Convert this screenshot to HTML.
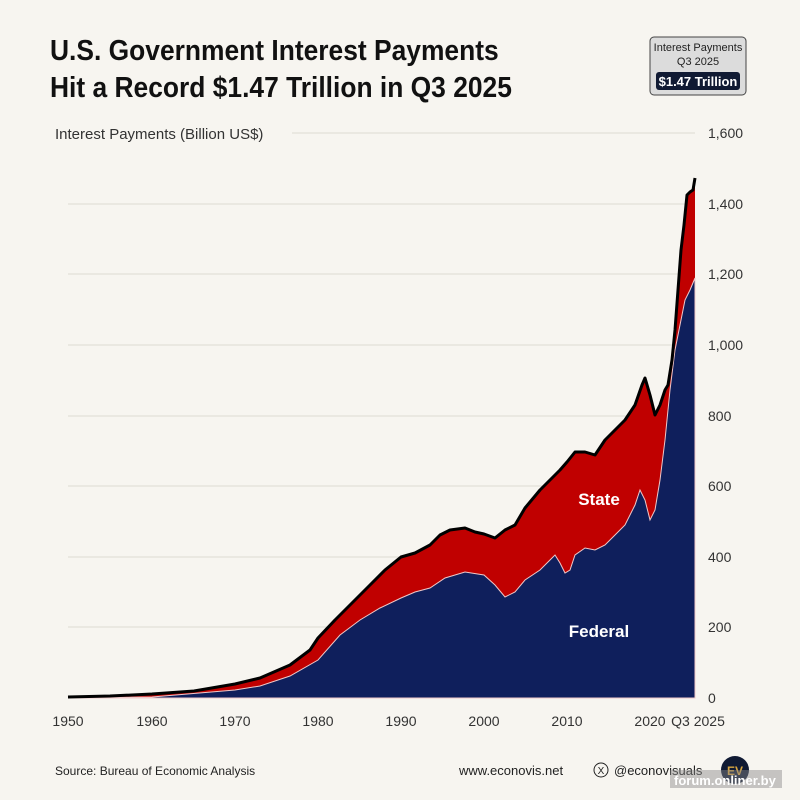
<!DOCTYPE html>
<html><head><meta charset="utf-8"><style>
body{margin:0;background:#f7f5f0;}
svg{display:block;font-family:"Liberation Sans",sans-serif;}
</style></head><body>
<svg width="800" height="800" viewBox="0 0 800 800">
<rect width="800" height="800" fill="#f7f5f0"/>
<text x="50" y="60" font-size="29" font-weight="bold" fill="#111" transform="scale(0.91,1)" transform-origin="50 0">U.S. Government Interest Payments</text>
<text x="50" y="97" font-size="29" font-weight="bold" fill="#111" transform="scale(0.91,1)" transform-origin="50 0">Hit a Record $1.47 Trillion in Q3 2025</text>
<rect x="650" y="37" width="96" height="58" rx="4" fill="#dcdcdc" stroke="#444" stroke-width="1"/>
<text x="698" y="51" font-size="11" text-anchor="middle" fill="#222">Interest Payments</text>
<text x="698" y="65" font-size="11" text-anchor="middle" fill="#222">Q3 2025</text>
<rect x="656" y="72" width="84" height="18" rx="3" fill="#101a33"/>
<text x="698" y="86" font-size="13" font-weight="bold" text-anchor="middle" fill="#fff">$1.47 Trillion</text>
<text x="55" y="139" font-size="15" fill="#333">Interest Payments (Billion US$)</text>
<g stroke="#dddad2" stroke-width="1">
<line x1="292" y1="133" x2="695" y2="133"/>
<line x1="68" y1="204" x2="695" y2="204"/>
<line x1="68" y1="274" x2="695" y2="274"/>
<line x1="68" y1="345" x2="695" y2="345"/>
<line x1="68" y1="416" x2="695" y2="416"/>
<line x1="68" y1="486" x2="695" y2="486"/>
<line x1="68" y1="557" x2="695" y2="557"/>
<line x1="68" y1="627" x2="695" y2="627"/>
</g>
<g font-size="14" fill="#333">
<text x="708" y="138">1,600</text><text x="708" y="209">1,400</text><text x="708" y="279">1,200</text>
<text x="708" y="350">1,000</text><text x="708" y="421">800</text><text x="708" y="491">600</text>
<text x="708" y="562">400</text><text x="708" y="632">200</text><text x="708" y="703">0</text>
</g>
<polygon fill="#c00000" points="68,697 110,696 152,694 194,691 235,684 260,678 290,665 310,650 318,638 335,620 355,600 370,585 385,570 401,557 415,553 430,545 440,535 450,530 465,528 475,532 484,534 495,538 505,530 515,525 525,508 540,490 550,480 560,470 567,462 575,452 585,452 595,455 605,440 615,430 625,420 635,405 642,385 645,378 650,395 655,415 660,405 665,390 668,385 672,360 675,330 678,290 681,250 684,225 687,195 690,192 693,190 695,178 695,698 68,698"/>
<polygon fill="#0f1f5c" stroke="#f0c8c8" stroke-width="1" points="68,698 152,697 235,690 260,686 290,676 318,660 340,635 360,620 380,608 401,598 415,592 430,588 445,578 465,572 484,575 495,585 505,597 515,592 525,580 540,570 550,560 555,555 560,563 565,573 570,570 575,555 585,548 595,550 605,545 615,535 625,525 635,505 640,490 645,500 650,520 655,510 660,480 665,440 670,390 675,350 680,325 685,300 690,290 695,278 695,698"/>
<polyline fill="none" stroke="#000" stroke-width="3" stroke-linejoin="round" points="68,697 110,696 152,694 194,691 235,684 260,678 290,665 310,650 318,638 335,620 355,600 370,585 385,570 401,557 415,553 430,545 440,535 450,530 465,528 475,532 484,534 495,538 505,530 515,525 525,508 540,490 550,480 560,470 567,462 575,452 585,452 595,455 605,440 615,430 625,420 635,405 642,385 645,378 650,395 655,415 660,405 665,390 668,385 672,360 675,330 678,290 681,250 684,225 687,195 690,192 693,190 695,178"/>
<text x="599" y="505" font-size="17" font-weight="bold" fill="#fff" text-anchor="middle">State</text>
<text x="599" y="637" font-size="17" font-weight="bold" fill="#fff" text-anchor="middle">Federal</text>
<g font-size="14" fill="#333" text-anchor="middle">
<text x="68" y="726">1950</text><text x="152" y="726">1960</text><text x="235" y="726">1970</text>
<text x="318" y="726">1980</text><text x="401" y="726">1990</text><text x="484" y="726">2000</text>
<text x="567" y="726">2010</text><text x="650" y="726">2020</text><text x="698" y="726">Q3 2025</text>
</g>
<text x="55" y="775" font-size="12" fill="#222">Source: Bureau of Economic Analysis</text>
<text x="459" y="775" font-size="13" fill="#222">www.econovis.net</text>
<circle cx="601" cy="770" r="7" fill="none" stroke="#222"/>
<text x="601" y="774" font-size="10" text-anchor="middle" fill="#222">X</text>
<text x="614" y="775" font-size="13" fill="#222">@econovisuals</text>
<circle cx="735" cy="770" r="14" fill="#101a33"/>
<text x="735" y="775" font-size="12" font-weight="bold" fill="#d9a640" text-anchor="middle">EV</text>
<rect x="670" y="770" width="112" height="18" fill="#888" opacity="0.45"/>
<text x="674" y="785" font-size="13" font-weight="bold" fill="#fff">forum.onliner.by</text>
</svg>
</body></html>
